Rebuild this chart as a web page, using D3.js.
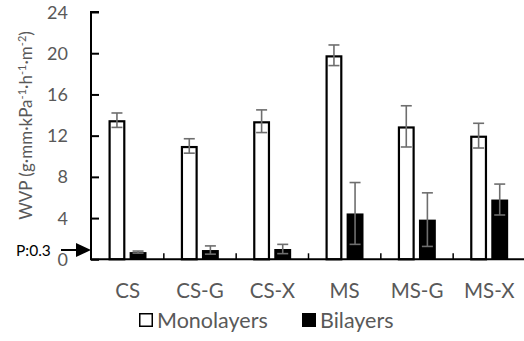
<!DOCTYPE html>
<html>
<head>
<meta charset="utf-8">
<script src="https://cdn.jsdelivr.net/npm/d3@7"></script>
<style>
  html, body { margin: 0; padding: 0; background: #fff; }
  svg { display: block; }
  text { font-family: Lato, "Open Sans", sans-serif; fill: #595959; }
</style>
</head>
<body>
<svg id="chart" width="524" height="341"></svg>
<script>
// Water vapour permeability of monolayer and bilayer films
const categories = ["CS", "CS-G", "CS-X", "MS", "MS-G", "MS-X"];
const series = ["Monolayers", "Bilayers"];
const monolayers = [13.5, 11.0, 13.4, 19.8, 12.9, 12.0];
const monolayersErr = [0.7, 0.7, 1.1, 1.0, 2.0, 1.2];
const bilayers = [0.7, 0.9, 1.0, 4.45, 3.85, 5.8];
const bilayersErr = [0.1, 0.4, 0.45, 3.0, 2.6, 1.5];
const yTicks = [0, 4, 8, 12, 16, 20, 24];
const pNote = "P:0.3";
const pNoteLevel = 0.9;

const rows = categories.map((c, i) => ({
  cat: c,
  vals: [
    { s: series[0], v: monolayers[i], e: monolayersErr[i] },
    { s: series[1], v: bilayers[i], e: bilayersErr[i] }
  ]
}));

const svg = d3.select("#chart");

const x = d3.scaleBand().domain(categories).range([91.5, 525.5]).padding(0);
const xSub = d3.scaleBand().domain(series).range([17, 55]).paddingInner(0.2);
const y = d3.scaleLinear().domain([0, 24]).range([259.3, 12]);

// bars
const groups = svg.append("g").selectAll("g")
  .data(rows).join("g")
  .attr("transform", d => `translate(${x(d.cat)},0)`);

groups.selectAll("rect")
  .data(d => d.vals).join("rect")
  .attr("x", d => xSub(d.s) + (d.s === series[0] ? 1.1 : 0))
  .attr("width", d => xSub.bandwidth() - (d.s === series[0] ? 2.2 : 0))
  .attr("y", d => y(d.v) + (d.s === series[0] ? 1.1 : 0))
  .attr("height", d => y(0) - y(d.v) - (d.s === series[0] ? 1.1 : 0))
  .attr("fill", d => d.s === series[0] ? "#fff" : "#000")
  .attr("stroke", d => d.s === series[0] ? "#000" : "none")
  .attr("stroke-width", 2.2);

// error bars
const capHalf = 5.5;
const err = groups.selectAll("g.err")
  .data(d => d.vals).join("g")
  .attr("class", "err")
  .attr("stroke", "#6e6e6e")
  .attr("stroke-width", 1.6);
err.append("line")
  .attr("x1", d => xSub(d.s) + xSub.bandwidth() / 2)
  .attr("x2", d => xSub(d.s) + xSub.bandwidth() / 2)
  .attr("y1", d => y(d.v + d.e))
  .attr("y2", d => y(d.v - d.e));
err.selectAll("line.cap")
  .data(d => [
    { cx: xSub(d.s) + xSub.bandwidth() / 2, v: d.v + d.e },
    { cx: xSub(d.s) + xSub.bandwidth() / 2, v: d.v - d.e }
  ]).join("line")
  .attr("class", "cap")
  .attr("x1", d => d.cx - capHalf)
  .attr("x2", d => d.cx + capHalf)
  .attr("y1", d => y(d.v))
  .attr("y2", d => y(d.v));

// y axis with inward ticks
const yAxis = svg.append("g")
  .attr("transform", "translate(91,0)")
  .call(d3.axisRight(y).tickValues(yTicks).tickSize(8).tickFormat(""));
yAxis.select(".domain").attr("stroke", "#000").attr("stroke-width", 2)
  .attr("d", `M8,${y(24)}H0V${y(0)}`);
yAxis.selectAll(".tick line").attr("stroke", "#000").attr("stroke-width", 2);

svg.append("g").selectAll("text")
  .data(yTicks).join("text")
  .attr("x", 68)
  .attr("y", d => y(d) + 6.5)
  .attr("text-anchor", "end")
  .attr("font-size", 18)
  .text(d => d);

// x axis: baseline with upward category separators
const xAxis = svg.append("g")
  .attr("transform", `translate(0,${y(0)})`)
  .call(d3.axisTop(x).tickSize(0).tickFormat(""));
xAxis.select(".domain").attr("stroke", "#000").attr("stroke-width", 2)
  .attr("d", `M90,0H524`);
xAxis.selectAll(".tick").remove();
xAxis.selectAll("line.sep")
  .data(categories.slice(1)).join("line")
  .attr("class", "sep")
  .attr("x1", d => x(d)).attr("x2", d => x(d))
  .attr("y1", 0).attr("y2", -6)
  .attr("stroke", "#000").attr("stroke-width", 1.5);

svg.append("g").selectAll("text")
  .data(categories).join("text")
  .attr("x", d => x(d) + x.bandwidth() / 2)
  .attr("y", 298)
  .attr("text-anchor", "middle")
  .attr("font-size", 20.5)
  .text(d => d);

// y axis title with superscripts
const title = svg.append("text")
  .attr("transform", "translate(32,125.5) rotate(-90)")
  .attr("text-anchor", "middle")
  .attr("font-size", 17);
const parts = [["WVP (g·mm·kPa", false], ["-1", true], ["·h", false], ["-1", true], ["·m", false], ["-2", true], [")", false]];
parts.forEach(([t, sup]) => {
  title.append("tspan")
    .attr("font-size", sup ? 11 : 17)
    .attr("baseline-shift", sup ? "6" : null)
    .text(t);
});

// P annotation with arrow pointing at the axis
const py = y(pNoteLevel);
svg.append("text")
  .attr("x", 16).attr("y", py + 5.5)
  .attr("font-size", 15.5)
  .style("fill", "#000")
  .text(pNote);
svg.append("line")
  .attr("x1", 61).attr("x2", 78)
  .attr("y1", py).attr("y2", py)
  .attr("stroke", "#000").attr("stroke-width", 2);
svg.append("path")
  .attr("d", `M76,${py - 7}L91,${py}L76,${py + 7}Z`)
  .attr("fill", "#000");

// legend
const legend = svg.append("g");
const legendPos = [{ s: series[0], x: 139 }, { s: series[1], x: 302 }];
legend.selectAll("rect")
  .data(legendPos).join("rect")
  .attr("x", d => d.x + 0.75).attr("y", 313.75)
  .attr("width", 12.5).attr("height", 12.5)
  .attr("fill", d => d.s === series[0] ? "#fff" : "#000")
  .attr("stroke", "#000").attr("stroke-width", 1.5);
legend.selectAll("text")
  .data(legendPos).join("text")
  .attr("x", d => d.x + 18)
  .attr("y", 327.5)
  .attr("font-size", 21.5)
  .text(d => d.s);
</script>
</body>
</html>
